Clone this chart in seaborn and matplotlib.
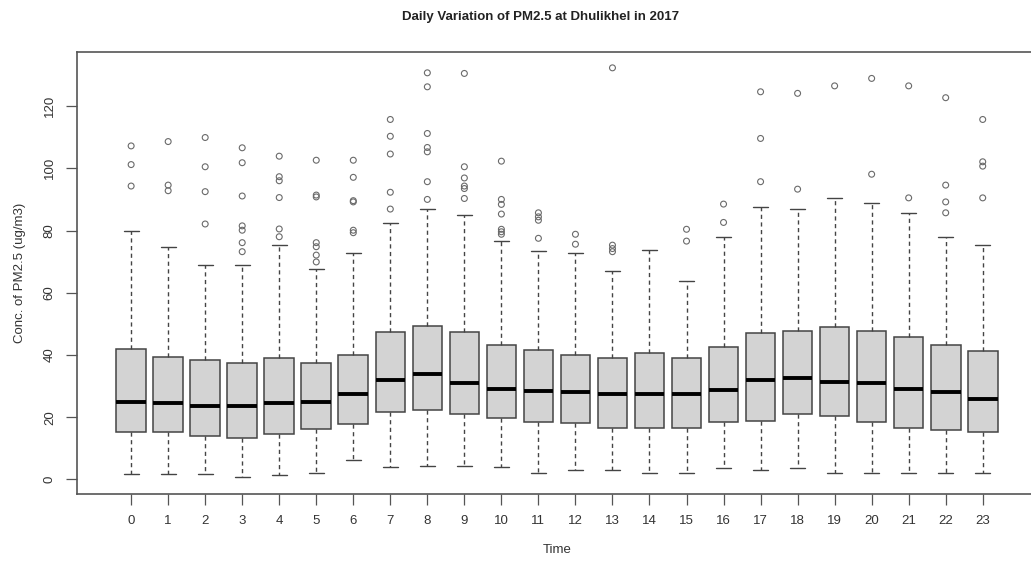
import numpy as np
import pandas as pd
import matplotlib
matplotlib.use("Agg")
import matplotlib.pyplot as plt
import seaborn as sns

# --- values (hourly PM2.5 box statistics) ---
hours = list(range(24))
whisk_lo = [1.6, 1.6, 1.6, 0.8, 1.4, 1.9, 6.2, 4.1, 4.3, 4.3, 4.1, 2.2,
            3.0, 3.0, 2.2, 2.2, 3.5, 3.0, 3.5, 2.2, 2.2, 2.2, 2.2, 2.2]
q1 = [15.3, 15.3, 13.9, 13.4, 14.6, 16.1, 17.8, 21.7, 22.3, 21.0, 19.6, 18.5,
      18.0, 16.6, 16.6, 16.6, 18.5, 18.8, 21.0, 20.3, 18.3, 16.6, 15.8, 15.1]
median = [24.9, 24.4, 23.6, 23.6, 24.4, 24.9, 27.6, 31.9, 33.8, 31.1, 29.2, 28.4,
          28.0, 27.3, 27.6, 27.6, 28.7, 32.1, 32.5, 31.4, 30.9, 29.2, 28.2, 25.7]
q3 = [41.8, 39.4, 38.3, 37.3, 38.9, 37.3, 40.0, 47.4, 49.4, 47.4, 43.2, 41.6,
      40.0, 38.9, 40.5, 38.9, 42.6, 46.9, 47.7, 48.9, 47.8, 45.8, 43.2, 41.2]
whisk_hi = [80.0, 74.6, 68.9, 68.9, 75.3, 67.5, 72.8, 82.5, 86.9, 85.0, 76.6, 73.4,
            72.8, 67.0, 73.7, 63.7, 78.0, 87.6, 86.9, 90.3, 88.9, 85.5, 77.8, 75.3]
outliers = [
    [107.2, 101.2, 94.3],
    [108.6, 94.6, 92.8],
    [109.9, 100.5, 92.5, 82.1],
    [106.6, 101.8, 91.1, 81.5, 80.1, 76.1, 73.2],
    [103.9, 97.3, 96.0, 90.6, 80.5, 78.0],
    [102.6, 91.4, 90.8, 76.1, 74.8, 72.1, 69.9],
    [102.6, 97.1, 89.6, 89.2, 80.1, 79.3],
    [115.7, 110.3, 104.6, 92.3, 86.9],
    [130.7, 126.2, 111.2, 106.7, 105.3, 95.7, 90.0],
    [130.5, 100.5, 96.9, 94.3, 93.5, 90.3],
    [102.3, 90.0, 88.4, 85.3, 80.4, 79.6, 78.8],
    [85.7, 84.4, 83.3, 77.5],
    [78.8, 75.6],
    [132.3, 75.3, 74.2, 73.2],
    [],
    [80.4, 76.6],
    [88.5, 82.6],
    [124.6, 109.6, 95.7],
    [124.1, 93.3],
    [126.5],
    [128.9, 98.1],
    [126.5, 90.5],
    [122.7, 94.6, 89.2, 85.7],
    [115.7, 102.1, 100.7, 90.5],
]

# five-number summary per hour -> long table for seaborn
rows = []
for h in hours:
    for v in (whisk_lo[h], q1[h], median[h], q3[h], whisk_hi[h]):
        rows.append({"Time": h, "value": v})
box_df = pd.DataFrame(rows)

out_df = pd.DataFrame(
    [{"Time": h, "value": v} for h in hours for v in outliers[h]]
)

sns.set_style("ticks")
plt.rcParams["font.family"] = ["Liberation Sans", "DejaVu Sans"]

fig = plt.figure(figsize=(10.31, 5.64), dpi=100)
ax = fig.add_axes([0.0744, 0.1241, 0.9312, 0.7832])

edge = "#444444"
sns.boxplot(
    data=box_df, x="Time", y="value", ax=ax,
    whis=(0, 100), showfliers=False, width=0.8,
    color="#d3d3d3", saturation=1, linewidth=1.1, linecolor=edge,
    boxprops={"facecolor": "#d3d3d3", "edgecolor": edge},
    medianprops={"color": "black", "linewidth": 2.8},
    whiskerprops={"color": edge, "linestyle": (0, (3, 2.5)), "linewidth": 1},
    capprops={"color": edge, "linewidth": 1},
)

# points beyond the whiskers, drawn as open circles like R
sns.scatterplot(
    data=out_df, x="Time", y="value", ax=ax,
    marker="o", s=18, facecolor="none", edgecolor="#6a6a6a", linewidth=0.8,
    legend=False, zorder=3,
)

ax.set_xlim(-1.47, 24.46)
ax.set_ylim(-4.7, 137.3)
ax.set_xticks(hours)
ax.set_xticklabels([str(h) for h in hours])
ax.set_yticks([0, 20, 40, 60, 80, 100, 120])
ax.tick_params(axis="both", direction="out", length=8, width=0.9,
               color="#555555", labelcolor="#333333", labelsize=9.5, pad=7)
for lab in ax.get_yticklabels():
    lab.set_rotation(90)
    lab.set_va("center")

for sp in ax.spines.values():
    sp.set_visible(True)
    sp.set_color("#555555")
    sp.set_linewidth(1.2)

ax.set_xlabel("Time", fontsize=9.5, color="#333333", labelpad=12)
ax.set_ylabel("Conc. of PM2.5 (ug/m3)", fontsize=9.5, color="#333333", labelpad=13)
fig.text(0.524, 0.97, "Daily Variation of PM2.5 at Dhulikhel in 2017",
         ha="center", va="center", fontsize=9.5, fontweight="bold", color="#222222")

fig.savefig("out.png", dpi=100)
